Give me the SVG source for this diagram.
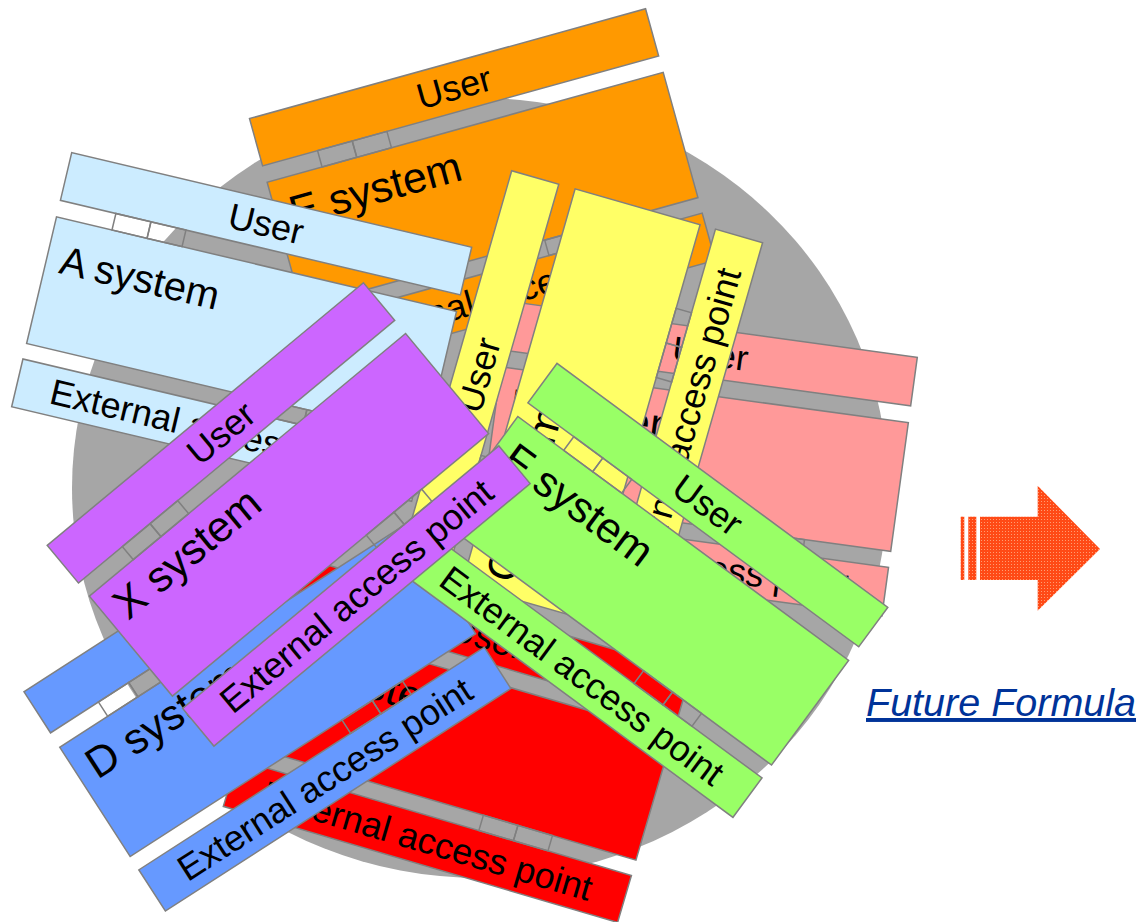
<svg xmlns="http://www.w3.org/2000/svg" xmlns:xlink="http://www.w3.org/1999/xlink" width="1140" height="922" viewBox="0 0 1140 922">
<style>
.frm{stroke:#808080;stroke-width:1.5}
.bt{font-family:"Liberation Sans",Arial,sans-serif;font-size:36px;fill:#000;text-anchor:middle}
.st{font-family:"Liberation Sans",Arial,sans-serif;font-size:43px;fill:#000}
.ff{font-family:"Liberation Sans",Arial,sans-serif;font-size:39.5px;font-style:italic;fill:#003399;text-decoration:underline}
</style>
<defs>
<g id="frame">
<rect x="0" y="0" width="411" height="49"/>
<rect x="0" y="66" width="411" height="130"/>
<rect x="0" y="212" width="411" height="49"/>
<rect x="57" y="49" width="36" height="17" fill="none"/>
<rect x="93" y="49" width="36" height="17" fill="none"/>
<rect x="252" y="196" width="36" height="16" fill="none"/>
<rect x="288" y="196" width="36" height="16" fill="none"/>
</g>
<pattern id="dots" width="3" height="3" patternUnits="userSpaceOnUse">
<rect width="3" height="3" fill="#FF4A16"/>
<rect width="1" height="1" fill="#FF9C72"/>
</pattern>
</defs>
<rect width="1140" height="922" fill="#FFFFFF"/>
<ellipse id="base" cx="480" cy="488" rx="408" ry="390" fill="#A6A6A6"/>

<g id="orange" transform="translate(249.5,118.6) rotate(-15.5)">
<use xlink:href="#frame" class="frm" fill="#FF9900"/>
<text class="bt" x="205.5" y="37">User</text>
<text class="st" x="14" y="116">E system</text>
<text class="bt" x="205.5" y="249">External access point</text>
</g>

<g id="pink" transform="translate(510.1,301.5) rotate(7.8)">
<use xlink:href="#frame" class="frm" fill="#FF9999"/>
<text class="bt" x="205.5" y="37">User</text>
<text class="st" x="14" y="116">B system</text>
<text class="bt" x="205.5" y="249">External access point</text>
</g>

<g id="red" transform="translate(297,556) rotate(16.4)">
<use xlink:href="#frame" class="frm" fill="#FF0000"/>
<text class="bt" x="205.5" y="37">User</text>
<text class="st" x="14" y="116">G system</text>
<text class="bt" x="205.5" y="249">External access point</text>
</g>

<g id="lightblue" transform="translate(71.7,152.7) rotate(13.3)">
<use xlink:href="#frame" class="frm" fill="#CCECFF"/>
<text class="bt" x="205.5" y="37">User</text>
<text class="st" x="14" y="120" style="font-size:40px">A system</text>
<text class="bt" x="205.5" y="249">External access point</text>
</g>

<g id="yellow" transform="translate(398.4,565.8) rotate(-74)">
<use xlink:href="#frame" class="frm" fill="#FFFF66"/>
<text class="bt" x="205.5" y="37">User</text>
<text class="st" x="14" y="116">C system</text>
<text class="bt" x="205.5" y="249">External access point</text>
</g>

<g id="blue" transform="translate(24,691.7) rotate(-32.8)">
<use xlink:href="#frame" class="frm" fill="#6699FF"/>
<text class="bt" x="205.5" y="37">User</text>
<text class="st" x="14" y="114">D system</text>
<text class="bt" x="205.5" y="249">External access point</text>
</g>

<g id="green" transform="translate(557,363.4) rotate(36.4)">
<use xlink:href="#frame" class="frm" fill="#99FF66"/>
<text class="bt" x="205.5" y="37">User</text>
<text class="st" x="14" y="116">F system</text>
<text class="bt" x="205.5" y="249">External access point</text>
</g>

<g id="purple" transform="translate(47.2,545.3) rotate(-39.7)">
<use xlink:href="#frame" class="frm" fill="#CC66FF"/>
<text class="bt" x="205.5" y="37">User</text>
<text class="st" x="14" y="110">X system</text>
<text class="bt" x="205.5" y="249">External access point</text>
</g>

<g id="arrow" fill="url(#dots)">
<rect x="960.7" y="516.7" width="3.6" height="63.3"/>
<rect x="968.3" y="516.7" width="8" height="63.3"/>
<polygon points="980,516.7 1037.7,516.7 1037.7,485.7 1100,549 1037.7,610.7 1037.7,580 980,580"/>
</g>

<text id="future" class="ff" x="866" y="716">Future Formula</text>
</svg>
